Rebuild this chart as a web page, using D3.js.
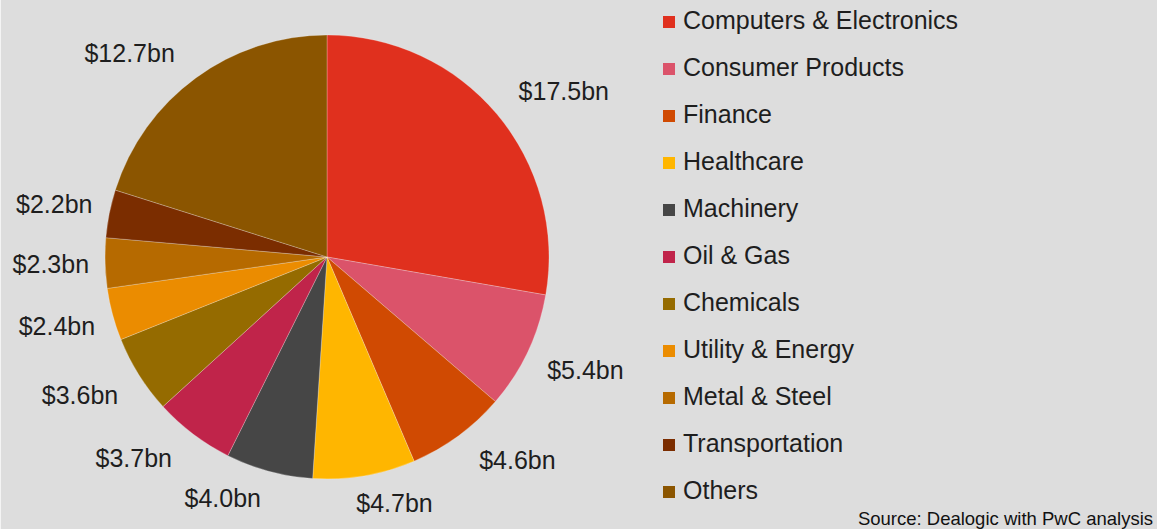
<!DOCTYPE html>
<html>
<head>
<meta charset="utf-8">
<script src="https://cdn.jsdelivr.net/npm/d3@7"></script>
<style>
  body { margin: 0; background: #dddddd; }
  svg { display: block; }
</style>
</head>
<body>
<svg id="mySvg" width="1157" height="529"></svg>
<script>
// data (clockwise from 12 o'clock)
var sectors = ["Computers & Electronics", "Consumer Products", "Finance", "Healthcare",
               "Machinery", "Oil & Gas", "Chemicals", "Utility & Energy",
               "Metal & Steel", "Transportation", "Others"];
var dealValues = [17.5, 5.4, 4.6, 4.7, 4.0, 3.7, 3.6, 2.4, 2.3, 2.2, 12.7];
var valueLabels = ["$17.5bn", "$5.4bn", "$4.6bn", "$4.7bn", "$4.0bn", "$3.7bn",
                   "$3.6bn", "$2.4bn", "$2.3bn", "$2.2bn", "$12.7bn"];
var sectorColors = ["#e0301e", "#db536a", "#d04a02", "#ffb600", "#464646", "#c0244a",
                    "#956b00", "#eb8c00", "#b66a00", "#7b2d00", "#8b5500"];
var sourceNote = "Source: Dealogic with PwC analysis";

var svgWidth = 1157;
var svgHeight = 529;
var cx = 327, cy = 257, radius = 222;
var fontFamily = "'Liberation Sans', Arial, sans-serif";

var svg = d3.select("#mySvg");

svg.append("rect")
    .attr("width", svgWidth)
    .attr("height", svgHeight)
    .attr("fill", "#dddddd");

var color = d3.scaleOrdinal()
    .domain(sectors)
    .range(sectorColors);

var pie = d3.pie()
    .sort(null)
    .value(d => d.value);

var arc = d3.arc()
    .innerRadius(0)
    .outerRadius(radius);

var rows = sectors.map(function(s, i) {
    return { name: s, value: dealValues[i], label: valueLabels[i] };
});

var arcs = pie(rows);

var g = svg.append("g")
    .attr("transform", "translate(" + cx + "," + cy + ")");

g.selectAll("path")
    .data(arcs)
    .enter()
    .append("path")
    .attr("d", arc)
    .attr("fill", d => color(d.data.name))
    .attr("stroke", "rgba(255,255,255,0.35)")
    .attr("stroke-width", 0.7);

// labels sit just outside the rim, box pushed away from the pie
var labelFont = 25;
var clamp = v => Math.max(-1, Math.min(1, v));

var labels = g.selectAll(".valLabel")
    .data(arcs)
    .enter()
    .append("text")
    .attr("class", "valLabel")
    .attr("font-family", fontFamily)
    .attr("font-size", labelFont)
    .attr("fill", "#1e1e1e")
    .attr("text-anchor", "middle")
    .text(d => d.data.label);

labels.each(function(d) {
    var a = (d.startAngle + d.endAngle) / 2;
    var dx = Math.sin(a), dy = -Math.cos(a);
    var w = this.getComputedTextLength();
    var h = 24;
    var x = (radius + 16) * dx + (w / 2) * clamp(dx * 3.5) + 30 * dx * (1 - dx * dx);
    var y = (radius + 16) * dy + (h / 2) * clamp(dy * 2.5);
    d3.select(this)
        .attr("x", x)
        .attr("y", y + 8.5);
});

// legend
var legendX = 663, legendY = 16, legendStep = 47;

var legend = svg.append("g")
    .attr("class", "legend");

var items = legend.selectAll(".item")
    .data(sectors)
    .enter()
    .append("g")
    .attr("class", "item")
    .attr("transform", (d, i) => "translate(" + legendX + "," + (legendY + i * legendStep) + ")");

items.append("rect")
    .attr("width", 12)
    .attr("height", 12)
    .attr("fill", d => color(d));

items.append("text")
    .attr("x", 20)
    .attr("y", 13)
    .attr("font-family", fontFamily)
    .attr("font-size", 25)
    .attr("fill", "#1e1e1e")
    .text(d => d);

svg.append("text")
    .attr("x", 1153)
    .attr("y", 525)
    .attr("text-anchor", "end")
    .attr("font-family", fontFamily)
    .attr("font-size", 18.5)
    .attr("fill", "#111")
    .text(sourceNote);

svg.append("rect")
    .attr("width", 1)
    .attr("height", svgHeight)
    .attr("fill", "#f4f4f4");
</script>
</body>
</html>
